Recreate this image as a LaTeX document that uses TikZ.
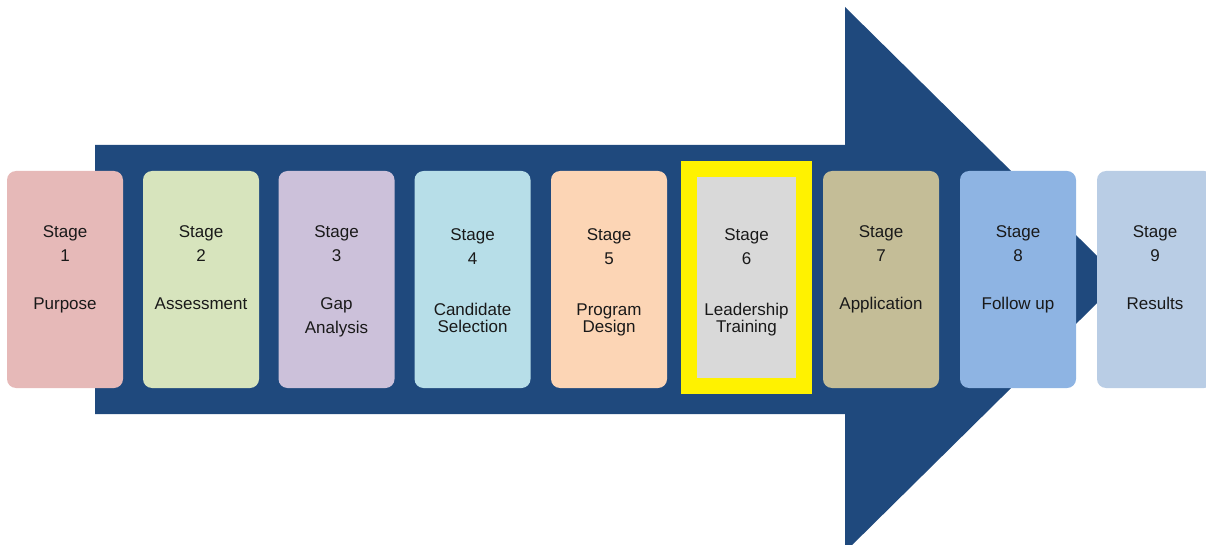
\documentclass[tikz,border=0pt]{standalone}
\usepackage{fontspec}
\setmainfont{Liberation Sans}

\definecolor{arrowblue}{HTML}{1F497D}
\definecolor{stageA}{HTML}{E6B9B8}
\definecolor{stageB}{HTML}{D7E4BD}
\definecolor{stageC}{HTML}{CCC1DA}
\definecolor{stageD}{HTML}{B7DEE8}
\definecolor{stageE}{HTML}{FCD5B5}
\definecolor{stageF}{HTML}{D9D9D9}
\definecolor{stageG}{HTML}{C4BD97}
\definecolor{stageH}{HTML}{8EB4E3}
\definecolor{stageI}{HTML}{B9CDE5}

\tikzset{
  stagebox/.style={minimum width=116pt, minimum height=217pt, inner sep=0pt, rounded corners=9pt},
  currentbox/.style={minimum width=115.5pt, minimum height=217.5pt, inner sep=0pt, draw=yellow, line width=16pt},
  stagetext/.style={anchor=north, align=center, inner sep=0pt, text=black!90, font=\fontsize{17}{24}\selectfont},
}

\begin{document}
\begin{tikzpicture}[x=1pt,y=-1pt]
      \useasboundingbox (0,0) rectangle (1206,545);
      \clip (0,0) rectangle (1206,545);

      % big arrow behind the stages
      \fill[arrowblue] (95,145) -- (845,145) -- (845,7) -- (1121,279.5)
        -- (845,552) -- (845,414) -- (95,414) -- cycle;

      % stages
      \foreach \i/\x/\y/\kind/\col/\dy/\gap/\txt in {
        1/65/279.5/stagebox/stageA/54/24pt/{Purpose},
        2/201/279.5/stagebox/stageB/54/24pt/{Assessment},
        3/336.5/279.5/stagebox/stageC/54/24pt/{Gap\\Analysis},
        4/472.5/279.5/stagebox/stageD/51/27pt/{Candidate\\[-7pt]Selection},
        5/609/279.5/stagebox/stageE/51/27pt/{Program\\[-7pt]Design},
        6/746.5/277.5/currentbox/stageF/49/27pt/{Leadership\\[-7pt]Training},
        7/881/279.5/stagebox/stageG/54/24pt/{Application},
        8/1018/279.5/stagebox/stageH/54/24pt/{Follow up},
        9/1155/279.5/stagebox/stageI/54/24pt/{Results}}
      {
        \node[\kind, fill=\col] (stage\i) at (\x,\y) {};
        \node[stagetext] (label\i) at ([yshift=\dy pt]stage\i.center)
          {Stage\\\i\\[\gap]\txt};
      }
\end{tikzpicture}
\end{document}
